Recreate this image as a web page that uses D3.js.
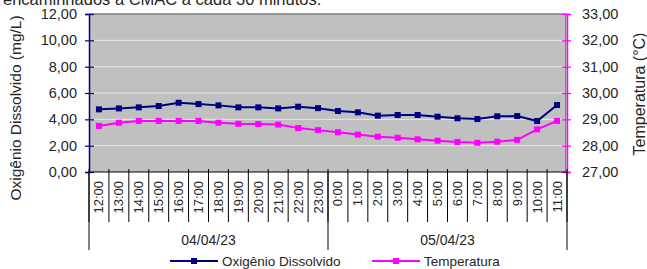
<!DOCTYPE html>
<html>
<head>
<meta charset="utf-8">
<script src="https://cdn.jsdelivr.net/npm/d3@7"></script>
<style>
  html, body { margin: 0; padding: 0; background: #ffffff; }
  svg { display: block; }
  text { font-family: "Liberation Sans", Arial, sans-serif; fill: #262626; }
</style>
</head>
<body>
<svg id="chart" width="647" height="269"></svg>
<script>
const hours = ["12:00","13:00","14:00","15:00","16:00","17:00","18:00","19:00","20:00","21:00","22:00","23:00",
               "0:00","1:00","2:00","3:00","4:00","5:00","6:00","7:00","8:00","9:00","10:00","11:00"];
const dates = ["04/04/23", "05/04/23"];
const hoursPerDate = [12, 12];
const oxigenio = [4.76, 4.83, 4.91, 5.01, 5.26, 5.16, 5.06, 4.91, 4.91, 4.83, 4.96, 4.85,
                  4.63, 4.53, 4.28, 4.33, 4.33, 4.20, 4.08, 4.02, 4.23, 4.25, 3.87, 5.09];
const temperatura = [28.75, 28.87, 28.94, 28.94, 28.94, 28.94, 28.87, 28.83, 28.82, 28.80, 28.67, 28.59,
                     28.51, 28.42, 28.34, 28.30, 28.24, 28.19, 28.14, 28.11, 28.15, 28.22, 28.62, 28.94];
const leftTicks = [0, 2, 4, 6, 8, 10, 12];
const rightTicks = [27, 28, 29, 30, 31, 32, 33];
const titleText = "encaminhados à CMAC a cada 30 minutos.";
const leftTitle = "Oxigênio Dissolvido (mg/L)";
const rightTitle = "Temperatura (°C)";
const seriesNames = ["Oxigênio Dissolvido", "Temperatura"];

const fmt = v => d3.format(".2f")(v).replace(".", ",");
const svg = d3.select("#chart");
const L = 89, R = 567, T = 14, B = 172;
const colDO = "#000080", colT = "#FF00FF";

const x = d3.scaleBand().domain(hours).range([L, R]).padding(0);
const yL = d3.scaleLinear().domain([0, 12]).range([B, T]);
const yR = d3.scaleLinear().domain([27, 33]).range([B, T]);

// title (cut at the top)
svg.append("text").attr("x", 3).attr("y", 4.5).attr("font-size", 16.5).text(titleText);

// plot background
svg.append("rect").attr("x", L).attr("y", T).attr("width", R - L).attr("height", B - T).attr("fill", "#C0C0C0");
// gridlines
svg.append("g").selectAll("line").data(leftTicks.filter(d => d > 0 && d < 12)).join("line")
  .attr("x1", L).attr("x2", R).attr("y1", d => yL(d)).attr("y2", d => yL(d))
  .attr("stroke", "#E8E8E8").attr("stroke-width", 1);
// top and right border
svg.append("line").attr("x1", L).attr("x2", R).attr("y1", T).attr("y2", T).attr("stroke", "#808080").attr("stroke-width", 1.5);
svg.append("line").attr("x1", R - 1.5).attr("x2", R - 1.5).attr("y1", T).attr("y2", B).attr("stroke", "#808080").attr("stroke-width", 1);

// left axis
const gl = svg.append("g").attr("transform", `translate(${L},0)`)
  .call(d3.axisLeft(yL).tickValues(leftTicks).tickFormat(fmt).tickSize(4).tickPadding(8));
gl.select(".domain").attr("stroke", colDO).attr("stroke-width", 1.5);
gl.selectAll(".tick line").attr("stroke", colDO).attr("x2", -4).attr("x1", 5).attr("stroke-width", 1.2);
gl.selectAll(".tick text").attr("font-size", 14.5).attr("font-family", "Liberation Sans, Arial, sans-serif").attr("fill", "#262626");

// right axis
const gr = svg.append("g").attr("transform", `translate(${R},0)`)
  .call(d3.axisRight(yR).tickValues(rightTicks).tickFormat(fmt).tickSize(4).tickPadding(11));
gr.select(".domain").attr("stroke", colT).attr("stroke-width", 1.5);
gr.selectAll(".tick line").attr("stroke", colT).attr("x1", -5).attr("x2", 4).attr("stroke-width", 1.2);
gr.selectAll(".tick text").attr("font-size", 14.5).attr("font-family", "Liberation Sans, Arial, sans-serif").attr("fill", "#262626");

// bottom axis line
svg.append("line").attr("x1", L).attr("x2", R).attr("y1", B).attr("y2", B).attr("stroke", "#000").attr("stroke-width", 1);

// category separators
const bounds = hours.map(h => x(h)).concat([R]);
svg.append("g").selectAll("line").data(bounds).join("line")
  .attr("x1", d => d).attr("x2", d => d).attr("y1", B - 3).attr("y2", 222)
  .attr("stroke", "#000").attr("stroke-width", 1);
// hour labels
svg.append("g").selectAll("text").data(hours).join("text")
  .attr("transform", d => `translate(${x(d) + x.bandwidth() / 2 + 4.5},181) rotate(-90)`)
  .attr("text-anchor", "end").attr("font-size", 13).text(d => d);

// date groups
let start = 0;
const groups = dates.map((d, i) => { const g = { label: d, a: hours[start], b: hours[start + hoursPerDate[i] - 1] }; start += hoursPerDate[i]; return g; });
const dateBounds = [L].concat(groups.map(g => x(g.b) + x.bandwidth()));
svg.append("g").selectAll("line").data(dateBounds).join("line")
  .attr("x1", d => d).attr("x2", d => d).attr("y1", B).attr("y2", 250)
  .attr("stroke", "#000").attr("stroke-width", 1);
svg.append("g").selectAll("text").data(groups).join("text")
  .attr("x", g => (x(g.a) + x(g.b) + x.bandwidth()) / 2).attr("y", 245)
  .attr("text-anchor", "middle").attr("font-size", 14).text(g => g.label);

// series
const cx = h => x(h) + x.bandwidth() / 2;
function drawSeries(vals, scale, col) {
  const line = d3.line().x((d, i) => cx(hours[i])).y(d => scale(d));
  svg.append("path").datum(vals).attr("d", line).attr("fill", "none").attr("stroke", col).attr("stroke-width", 2);
  svg.append("g").selectAll("rect").data(vals).join("rect")
    .attr("x", (d, i) => cx(hours[i]) - 3).attr("y", d => scale(d) - 3)
    .attr("width", 6).attr("height", 6).attr("fill", col);
}
drawSeries(temperatura, yR, colT);
drawSeries(oxigenio, yL, colDO);

// axis titles
svg.append("text").attr("transform", `translate(21,108) rotate(-90)`)
  .attr("text-anchor", "middle").attr("font-size", 15.5).text(leftTitle);
svg.append("text").attr("transform", `translate(645,94) rotate(-90)`)
  .attr("text-anchor", "middle").attr("font-size", 16).text(rightTitle);

// legend
const legend = [{ name: seriesNames[0], col: colDO, x0: 170 }, { name: seriesNames[1], col: colT, x0: 372 }];
const lg = svg.append("g").selectAll("g").data(legend).join("g");
lg.append("line").attr("x1", d => d.x0).attr("x2", d => d.x0 + 48).attr("y1", 261).attr("y2", 261)
  .attr("stroke", d => d.col).attr("stroke-width", 2);
lg.append("rect").attr("x", d => d.x0 + 21).attr("y", 258).attr("width", 6).attr("height", 6).attr("fill", d => d.col);
lg.append("text").attr("x", d => d.x0 + 52).attr("y", 266).attr("font-size", 13.5).text(d => d.name);
</script>
</body>
</html>
